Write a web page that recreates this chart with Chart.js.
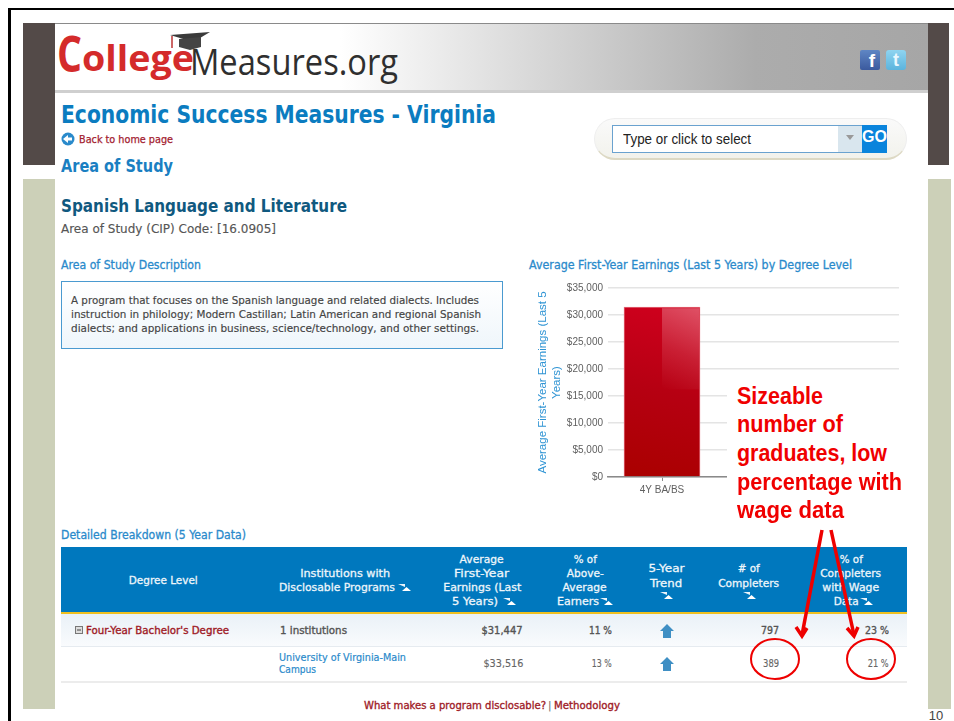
<!DOCTYPE html>
<html><head><meta charset="utf-8">
<script src="https://cdn.jsdelivr.net/npm/chart.js@4"></script>
<style>
html,body{margin:0;padding:0;background:#fff;overflow:hidden}
#page{position:relative;width:954px;height:721px;overflow:hidden;background:#fff;filter:blur(.45px)}
.r{position:absolute}
.t{position:absolute;white-space:nowrap;line-height:1;font-family:"DejaVu Sans",sans-serif}
canvas{position:absolute;left:530px;top:275px}
svg{position:absolute;left:0;top:0}
</style></head><body>
<div id="page"></div>
<script>
const categories = ["4Y BA/BS"];
const earnings = [31447];
const yTickMax = 35000, yTickStep = 5000;
const yAxisTitle = ["Average First-Year Earnings (Last 5", "Years)"];
const tableRows = [
  ["Four-Year Bachelor's Degree","1 institutions","$31,447","11 %","797","23 %"],
  ["","University of Virginia-Main Campus","$33,516","13 %","389","21 %"]
];
const note = ["Sizeable","number of","graduates, low","percentage with","wage data"];
const descLines = ["A program that focuses on the Spanish language and related dialects. Includes",
 "instruction in philology; Modern Castillan; Latin American and regional Spanish",
 "dialects; and applications in business, science/technology, and other settings."];

const page = document.getElementById('page');
function box(x,y,w,h,bg,extra){const d=document.createElement('div');d.className='r';
  d.style.cssText=`left:${x}px;top:${y}px;width:${w}px;height:${h}px;background:${bg};${extra||''}`;page.appendChild(d);return d;}
// x = anchor (left / centre / right), y = vertical centre, w = wanted text width
function put(s,x,y,o){o=o||{};const d=document.createElement('div');d.className='t';d.textContent=s;
  d.style.fontSize=(o.size||11)+'px';d.style.color=o.color||'#555';d.style.fontWeight=o.weight||400;
  if(o.font)d.style.fontFamily=o.font;
  if(o.stroke)d.style.webkitTextStroke=o.stroke+'px '+(o.color||'#555');
  page.appendChild(d);
  const a=o.align||'left',tw=d.getBoundingClientRect().width,h=d.getBoundingClientRect().height;
  const sx=o.w?o.w/tw:1;
  const left=a==='left'?x:a==='right'?x-tw:x-tw/2;
  d.style.left=left+'px';d.style.top=(y-h/2)+'px';
  d.style.transformOrigin=a==='left'?'left center':a==='right'?'right center':'center center';
  d.style.transform=`scaleX(${sx})`;return d;}

// slide frame and side strips
box(8,7.5,946,2.5,'#000');box(8,8,2.5,713,'#000');
box(23,23,32,142,'#534a48');box(928,23,21,142,'#534a48');
box(23,179,32,530,'#ccd0b8');box(928,179,23,530,'#ccd0b8');
put("10",936,715,{size:13,color:'#444',align:'center',font:'"Liberation Sans"'});
// header
box(55,23,873,70,'linear-gradient(90deg,#fff 0,#fff 285px,#d2d2d2 510px,#acacac 700px,#a6a6a6 873px)');
box(55,23,873,1,'#8a8a8a');box(55,90,873,3,'#cfcfcf');
put("C",57,53,{size:50,color:'#d42b2b',weight:700,font:'"Open Sans"',w:25});
put("ollege",82,58,{size:36,color:'#d42b2b',weight:700,font:'"Open Sans"',w:112});
put("Measures.org",190,60,{size:37,color:'#2f2f2f',font:'"Open Sans"',w:208});
// social icons
box(860,50,20,20,'linear-gradient(180deg,#5f86c4,#3b5a9e)','border-radius:2px');
put("f",872,60,{size:19,color:'#fff',weight:700,align:'center',font:'"Liberation Sans"'});
box(886,50,20,20,'linear-gradient(180deg,#8fd4f0,#5cb4dd)','border-radius:3px');
put("t",896,60,{size:18,color:'#eaf8fe',weight:700,align:'center',font:'"Liberation Sans"'});
// headings
put("Economic Success Measures - Virginia",61,114.5,{size:24,color:'#0b7cc0',weight:700,w:435});
put("Back to home page",79,139,{size:10.5,color:'#a3202f',w:94,stroke:.25});
put("Area of Study",61,166,{size:17,color:'#1a7fc2',weight:700,w:112});
put("Spanish Language and Literature",61,205.5,{size:18,color:'#10597f',weight:700,w:286});
put("Area of Study (CIP) Code: [16.0905]",61,229,{size:12.5,color:'#555',w:215,stroke:.15});
put("Area of Study Description",61,266,{size:11.5,color:'#2a8acb',w:140,stroke:.3});
put("Average First-Year Earnings (Last 5 Years) by Degree Level",529,266,{size:11.5,color:'#2a8acb',w:323,stroke:.3});
// search
box(594,118,313,42,'linear-gradient(180deg,#fafafa,#f2f2ec)','border-radius:21px;box-sizing:border-box;border:1px solid #eee;border-bottom:2px solid #ddd9c4');
box(612,125,250,28,'#fff','box-sizing:border-box;border:1px solid #6aa2cf');
box(838,126,24,26,'#d9e6ee');box(862,125,25,28,'#0a84dc');
put("Type or click to select",623,139,{size:14,color:'#222',font:'"Liberation Sans"',w:128});
put("GO",874.5,137,{size:16,color:'#fff',weight:700,align:'center',font:'"Liberation Sans"'});
// description box
box(61,281,442,68,'linear-gradient(180deg,#fff,#eff6fb)','box-sizing:border-box;border:1px solid #4a9ad0');
descLines.forEach((l,i)=>put(l,71,300+14*i,{size:10.5,color:'#444',w:[408,410,408][i],stroke:.15}));
// table
put("Detailed Breakdown (5 Year Data)",61,536,{size:11.5,color:'#2a8acb',w:185,stroke:.3});
box(61,547,846,65,'#0078be');box(61,612,846,2,'#f0c020');
box(61,614,846,32,'linear-gradient(180deg,#eaf1f7,#f9fbfd)');box(61,646,846,1,'#e6ebf0');box(61,681,846,1.5,'#ececec');
const hdr={size:11,color:'#eef6fb',align:'center',weight:400,stroke:.3};
function H(s,x,y,w){return put(s,x,y,Object.assign({},hdr,{w:w}));}
H("Degree Level",163,580,69);
H("Institutions with",345,573,90);H("Disclosable Programs",337,587,116);
H("Average",482,559,44);H("First-Year",482,573,55);H("Earnings (Last",482,587,78);H("5 Years)",475,601,46);
H("% of",585,559,23);H("Above-",585,573,37);H("Average",585,587,44);H("Earners",578,601,42);
H("5-Year",666,568,36);H("Trend",666,583,32);
H("# of",749,568,22);H("Completers",749,583,61);
H("% of",851,559,23);H("Completers",851,573,61);H("with Wage",851,587,57);H("Data",846,601,25);
const r0=tableRows[0],r1=tableRows[1];
const rowA={size:11,color:'#555',stroke:.4};
put(r0[0],86,630.5,{size:11,color:'#a01c28',stroke:.4,w:143});
put(r0[1],280,630.5,Object.assign({},rowA,{w:67}));
put(r0[2],522,630.5,Object.assign({},rowA,{align:'right',w:41}));
put(r0[3],612,630.5,Object.assign({},rowA,{align:'right',w:23}));
put(r0[4],779,630.5,Object.assign({},rowA,{align:'right',w:18}));
put(r0[5],889,630.5,Object.assign({},rowA,{align:'right',w:24}));
put("University of Virginia-Main",279,657,{size:10.5,color:'#2a8acb',w:127,stroke:.2});
put("Campus",279,669.5,{size:10.5,color:'#2a8acb',w:37,stroke:.2});
const rowB={size:10.5,color:'#666',stroke:.15,align:'right'};
put(r1[2],523,663,Object.assign({},rowB,{w:40}));
put(r1[3],612,663,Object.assign({},rowB,{w:20}));
put(r1[4],779,663,Object.assign({},rowB,{w:16}));
put(r1[5],889,663,Object.assign({},rowB,{w:21}));
put("What makes a program disclosable?",364,705,{size:10.5,color:'#a01c28',stroke:.35,w:182});
put("|",548,705,{size:10.5,color:'#666'});
put("Methodology",554,705,{size:10.5,color:'#a01c28',stroke:.35,w:66});

// chart
const barGloss={id:'barGloss',afterDatasetsDraw(chart){
  const c=chart.ctx;
  chart.getDatasetMeta(0).data.forEach(b=>{
    const l=b.x-b.width/2,r=b.x+b.width/2,mid=b.y+(b.base-b.y)*.48;
    const g=c.createLinearGradient(b.x,mid,r,b.y);
    g.addColorStop(0,'rgba(255,255,255,0)');g.addColorStop(.45,'rgba(255,255,255,.12)');g.addColorStop(1,'rgba(255,255,255,.32)');
    c.save();c.fillStyle=g;c.fillRect(b.x,b.y+1,r-b.x-1,mid-b.y);c.restore();
  });
}};
const cv=document.createElement('canvas');cv.width=380;cv.height=225;cv.style.width='380px';cv.style.height='225px';page.appendChild(cv);
new Chart(cv,{type:'bar',plugins:[barGloss],
 data:{datasets:[{data:categories.map((c,i)=>({x:i+0.5,y:earnings[i]})),barThickness:76,
  borderWidth:1,borderColor:'#e26a78',
  backgroundColor(ctx){const ca=ctx.chart.chartArea;if(!ca)return '#c00010';
    const g=ctx.chart.ctx.createLinearGradient(ca.left+30,ca.bottom,ca.left+70,ca.top+15);
    g.addColorStop(0,'#aa0000');g.addColorStop(.5,'#b60012');g.addColorStop(1,'#d0001e');return g;}
 }]},
 options:{responsive:false,animation:false,
  layout:{padding:{top:13,right:11,left:0,bottom:0}},
  plugins:{legend:{display:false},tooltip:{enabled:false}},
  scales:{
   x:{type:'linear',offset:false,min:0,max:2.694,
     afterBuildTicks(s){s.ticks=categories.map((c,i)=>({value:i+0.5}));},
     afterFit(s){s.height=23;},
     ticks:{autoSkip:false,maxRotation:0,padding:3,color:'#606060',font:{family:'"Liberation Sans"',size:10},callback(v){return categories[Math.round(v-0.5)];}},
     grid:{offset:false,drawOnChartArea:false,tickLength:4,color:'#8a8a8a'},
     border:{color:'#8a8a8a',width:1.5}},
   y:{min:0,max:yTickMax,ticks:{stepSize:yTickStep,padding:5,color:'#606060',font:{family:'"Liberation Sans"',size:10},
       callback(v){return '$'+Number(v).toLocaleString('en-US');}},
     afterFit(s){s.width=78;},
     grid:{drawTicks:false,color:'#e4e4e4',lineWidth:1.5},border:{display:false},
     title:{display:true,text:yAxisTitle,color:'#2f94d4',font:{family:'"Liberation Sans"',size:11.5},padding:{top:6,bottom:0}}}
  }}});

// annotation box and text above the chart
box(727,380,173,148,'#fff');
note.forEach((l,i)=>put(l,737,396+28.7*i,{size:23,color:'#f00000',weight:700,font:'"Liberation Sans"',w:[86,106,150,165,107][i]}));

// vector decorations
const ns='http://www.w3.org/2000/svg';
const svg=document.createElementNS(ns,'svg');svg.setAttribute('width',954);svg.setAttribute('height',721);
const tri=(x,y)=>`<polygon points="${x},${y} ${x+7},${y} ${x+7},${y+3}" fill="#e8f3fa"/><polygon points="${x+4},${y+7} ${x+13},${y+7} ${x+8.5},${y+3}" fill="#fff"/>`;
const house=(cx,cy)=>`<polygon points="${cx},${cy-7} ${cx+7},${cy} ${cx+4},${cy} ${cx+4},${cy+7} ${cx-4},${cy+7} ${cx-4},${cy} ${cx-7},${cy}" fill="#3f8fc4"/>`;
svg.innerHTML=
 `<polygon points="170,35 210,32 200,38 190,41" fill="#3a3a3a"/><polygon points="179,39 201,37 201,47 190,50 179,47" fill="#444"/><line x1="172" y1="36" x2="172" y2="48" stroke="#b33" stroke-width="1.5"/>`+
 tri(398,584)+tri(503,598)+tri(600,598)+tri(660,592)+tri(743,592)+tri(860,598)+
 house(667,631)+house(667,664)+
 `<rect x="75.5" y="626.5" width="7" height="7" fill="#ddd" stroke="#777"/><line x1="77" y1="630" x2="81" y2="630" stroke="#444"/>`+
 `<circle cx="68" cy="139" r="6.5" fill="#2a8acb"/><polygon points="63,139 68,135 68,143" fill="#fff"/><rect x="67" y="137.5" width="5" height="3" fill="#fff"/>`+
 `<polygon points="846,135 854,135 850,140" fill="#999"/>`+
 `<g fill="none" stroke="#ee0000" stroke-width="2"><ellipse cx="775" cy="659" rx="24" ry="20"/><ellipse cx="871" cy="659" rx="24" ry="20"/></g>`+
 `<g fill="none" stroke="#ee0000" stroke-width="3.5"><line x1="822" y1="530" x2="802" y2="635"/><polyline points="796,627 802,636 807,628"/><line x1="831" y1="530" x2="854" y2="635"/><polyline points="847,628 854,636 858,627"/></g>`;
page.appendChild(svg);
</script>
</body></html>
